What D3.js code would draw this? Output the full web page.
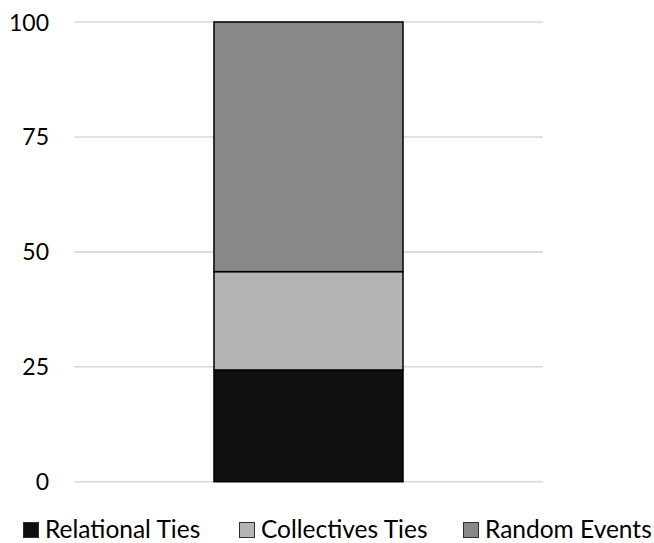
<!DOCTYPE html>
<html>
<head>
<meta charset="utf-8">
<script src="https://cdn.jsdelivr.net/npm/d3@7"></script>
<style>
  html, body { margin: 0; padding: 0; background: #fff; }
  svg { display: block; }
  text { font-family: Lato, "Open Sans", sans-serif; fill: #000; }
</style>
</head>
<body>
<svg id="chart" width="654" height="543"></svg>
<script>
// Share of explained outcome by source (percent, stacked)
const categories = ["All"];
const seriesNames = ["Relational Ties", "Collectives Ties", "Random Events"];
const relationalTies = [24.3];
const collectivesTies = [21.4];
const randomEvents = [54.3];
const seriesColors = ["#0f0f0f", "#b4b4b4", "#888888"];
const yTicks = [0, 25, 50, 75, 100];

const svg = d3.select("#chart");
const margin = { left: 74, right: 111, top: 22, bottom: 61.3 };
const width = 654, height = 543;

const x = d3.scaleBand()
  .domain(categories)
  .range([margin.left, width - margin.right])
  .paddingInner(0.4255)
  .paddingOuter(0.4255);

const y = d3.scaleLinear()
  .domain([0, 100])
  .range([height - margin.bottom, margin.top]);

// Horizontal gridlines
svg.append("g")
  .selectAll("line")
  .data(yTicks)
  .join("line")
  .attr("x1", margin.left)
  .attr("x2", width - margin.right)
  .attr("y1", d => y(d))
  .attr("y2", d => y(d))
  .attr("stroke", "#d9d9d9")
  .attr("stroke-width", 1.6);

// Y axis labels
const yAxis = d3.axisLeft(y).tickValues(yTicks).tickSize(0).tickPadding(0);
const yg = svg.append("g")
  .attr("transform", `translate(49,0)`)
  .call(yAxis);
yg.select(".domain").remove();
yg.selectAll("text")
  .attr("font-family", "Lato, sans-serif")
  .attr("font-size", 23)
  .attr("fill", "#000")
  .attr("dy", "0.35em");

// Stacked bar
const rows = categories.map((c, i) => ({
  category: c,
  "Relational Ties": relationalTies[i],
  "Collectives Ties": collectivesTies[i],
  "Random Events": randomEvents[i]
}));
const stacked = d3.stack().keys(seriesNames)(rows);

svg.append("g")
  .selectAll("g")
  .data(stacked)
  .join("g")
  .attr("fill", (d, i) => seriesColors[i])
  .selectAll("rect")
  .data(d => d)
  .join("rect")
  .attr("x", d => x(d.data.category))
  .attr("width", x.bandwidth())
  .attr("y", d => y(d[1]))
  .attr("height", d => y(d[0]) - y(d[1]))
  .attr("stroke", "#000")
  .attr("stroke-width", 1.5);

// Legend
const legendX = [23, 239, 463];
const legend = svg.append("g");
seriesNames.forEach((name, i) => {
  const g = legend.append("g").attr("transform", `translate(${legendX[i]},522)`);
  g.append("rect")
    .attr("x", 0.5).attr("y", 0.5)
    .attr("width", 15).attr("height", 15)
    .attr("fill", seriesColors[i])
    .attr("stroke", "#303030")
    .attr("stroke-width", 1);
  g.append("text")
    .attr("x", 22)
    .attr("y", 16)
    .attr("font-size", 24.5)
    .text(name);
});
</script>
</body>
</html>
